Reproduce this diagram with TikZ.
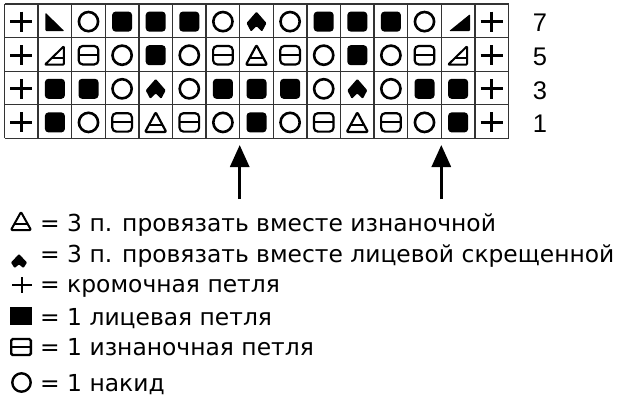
\documentclass[tikz,border=0pt]{standalone}
\usepackage{fontspec}
\setmainfont{DejaVu Sans}
\newfontfamily\numfont{Liberation Sans}
\usetikzlibrary{arrows.meta}
\newcommand\kdknit{\fill[rounded corners=3.5pt] (-10,-10) rectangle (10,10);}
\newcommand\kdyo{\draw[line width=2.6pt] (0,0) circle (9.6);}
\newcommand\kdpurl{\draw[line width=2.2pt, rounded corners=4pt] (-9.8,-9.2) rectangle (9.8,9.2); \draw[line width=2pt] (-9.8,0) -- (9.8,0);}
\newcommand\kdedge{\draw[line width=3pt] (-11,0) -- (11,0) (0,-10) -- (0,10);}
\newcommand\kdptog{\draw[line width=2.2pt, line join=round, rounded corners=1pt] (0,-10) -- (10.5,9.5) -- (-10.5,9.5) -- cycle; \draw[line width=2pt] (-7,3) -- (7,3);}
\newcommand\kdktog{\fill[rounded corners=1pt] (0,-10) -- (10,1.5) -- (5.5,10) -- (0,4.5) -- (-5.5,10) -- (-10,1.5) -- cycle;}
\newcommand\kdldec{\fill[rounded corners=1pt] (-9.5,-9) -- (-9.5,9.5) -- (9.5,9.5) -- cycle;}
\newcommand\kdrdec{\fill[rounded corners=1pt] (-9,9.5) -- (12,9.5) -- (12,-7.5) -- cycle;}
\newcommand\kdpdec{\draw[line width=2pt, line join=round, rounded corners=1pt] (-10,9.5) -- (9,-9) -- (9,9.5) -- cycle; \draw[line width=2pt] (-3.3,3) -- (9,3);}
\begin{document}
\begin{tikzpicture}[x=1pt,y=-1pt,
  gridline/.style={draw=black!80, line width=1.3pt},
  arrowline/.style={line width=3pt, -{Triangle[length=22pt,width=19pt]}},
  legtext/.style={font=\fontsize{23.4}{28}\selectfont, anchor=base west, inner sep=0pt},
  rownum/.style={font=\numfont\fontsize{25.5}{30}\selectfont, anchor=center, inner sep=0pt}]
\useasboundingbox (0,0) rectangle (640,400);
% grid
\foreach \i in {0,...,15} \draw[gridline] ({4.5+33.6*\i},4) -- ({4.5+33.6*\i},138.4);
\foreach \j in {0,...,4} \draw[gridline] (4.5,{4+33.6*\j}) -- (508.5,{4+33.6*\j});
% symbols
\foreach \r/\row in {
  0/{edge,ldec,yo,knit,knit,knit,yo,ktog,yo,knit,knit,knit,yo,rdec,edge},
  1/{edge,pdec,purl,yo,knit,yo,purl,ptog,purl,yo,knit,yo,purl,pdec,edge},
  2/{edge,knit,knit,yo,ktog,yo,knit,knit,knit,yo,ktog,yo,knit,knit,edge},
  3/{edge,knit,yo,purl,ptog,purl,yo,knit,yo,purl,ptog,purl,yo,knit,edge}}{
  \foreach \s [count=\c from 0] in \row {
    \begin{scope}[shift={({4.5+33.6*(\c+0.5)},{4.8+33.6*(\r+0.5)})}]
      \csname kd\s\endcsname
    \end{scope}
  }
}
% row numbers
\node[rownum] (n7) at (540,22.5) {7};
\node[rownum] (n5) at (540,57) {5};
\node[rownum] (n3) at (540,90.5) {3};
\node[rownum] (n1) at (540,124) {1};
% arrows
\coordinate (a1b) at (239.7,199);
\coordinate (a1t) at (239.7,145);
\coordinate (a2b) at (441.3,199);
\coordinate (a2t) at (441.3,145);
\draw[arrowline] (a1b) -- (a1t);
\draw[arrowline] (a2b) -- (a2t);
% legend symbols
\draw[line width=2pt, line join=round, rounded corners=1pt] (21,212) -- (31,230) -- (11,230) -- cycle;
\draw[line width=2pt] (14.5,223.5) -- (27.5,223.5);
\fill[rounded corners=0.8pt] (19,254) -- (27,262.5) -- (23.5,268) -- (19,264.5) -- (14.5,268) -- (11,262.5) -- cycle;
\draw[line width=2.6pt] (12,285) -- (32,285) (22,277) -- (22,293);
\fill (10,307) rectangle (32,325);
\draw[line width=2.4pt, rounded corners=1.5pt] (11.2,339) rectangle (30.8,355);
\draw[line width=2.2pt] (11.2,347) -- (30.8,347);
\draw[line width=2.4pt] (21.5,382.5) circle (9.2);
% legend text
\node[legtext] (l1) at (40,231) {= 3 п. провязать вместе изнаночной};
\node[legtext] (l2) at (40,262) {= 3 п. провязать вместе лицевой скрещенной};
\node[legtext] (l3) at (40,292) {= кромочная петля};
\node[legtext] (l4) at (40,325) {= 1 лицевая петля};
\node[legtext] (l5) at (40,355) {= 1 изнаночная петля};
\node[legtext] (l6) at (40,391) {= 1 накид};
\end{tikzpicture}
\end{document}
